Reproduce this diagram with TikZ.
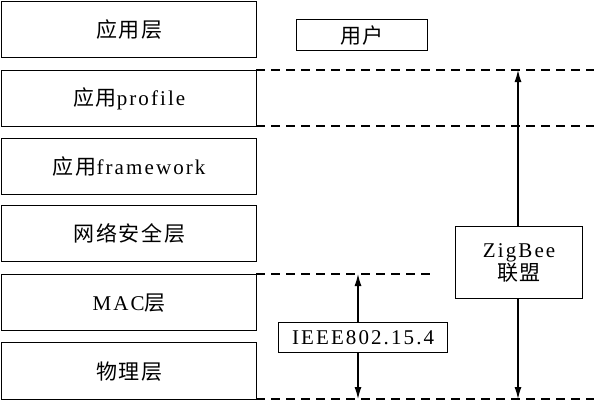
\documentclass[tikz,border=0pt]{standalone}
\usepackage{fontspec}
\setmainfont{Liberation Serif}[LetterSpace=10]
\newfontfamily\cjk{Noto Sans CJK SC}[LetterSpace=8]
\usetikzlibrary{arrows.meta}
\tikzset{
  layer/.style={draw, line width=1.4pt, minimum width=255pt, minimum height=56pt, inner sep=0pt, anchor=north west},
  lbl/.style={draw, line width=1.2pt, inner sep=0pt, anchor=north west},
  dline/.style={line width=1.2pt, dash pattern=on 9pt off 6pt},
  arr/.style={line width=1.2pt, -{Latex[length=12pt,width=7pt]}},
  txt/.style={font=\fontsize{21}{25}\selectfont}
}
\begin{document}
\begin{tikzpicture}[x=1pt,y=-1pt]
\useasboundingbox (0,0) rectangle (594,400);
\node[layer,txt] (app) at (1,1) {\cjk 应用层};
\node[layer,txt] (prof) at (1,70) {\cjk 应用\rmfamily profile};
\node[layer,txt] (frame) at (1,138) {\cjk 应用\rmfamily framework};
\node[layer,txt] (sec) at (1,205) {\cjk 网络安全层};
\node[layer,txt] (mac) at (1,274) {\rmfamily MAC\cjk 层};
\node[layer,txt,minimum height=57pt] (phy) at (1,342) {\cjk 物理层};
\node[lbl,txt,minimum width=131pt,minimum height=31pt] (user) at (296,19) {\cjk 用户};
\node[lbl,txt,minimum width=127pt,minimum height=72pt,align=center] (zig) at (455,226) {ZigBee\\[-2pt]{\cjk 联盟}};
\node[lbl,txt,minimum width=169pt,minimum height=30pt] (ieee) at (278,322) {IEEE802.15.4};
\coordinate (d1a) at (256,70); \coordinate (d1b) at (594,70);
\coordinate (d2a) at (256,126); \coordinate (d2b) at (594,126);
\coordinate (d3a) at (256,274); \coordinate (d3b) at (432,274);
\coordinate (d4a) at (256,399); \coordinate (d4b) at (594,399);
\draw[dline] (d1a) -- (d1b);
\draw[dline] (d2a) -- (d2b);
\draw[dline] (d3a) -- (d3b);
\draw[dline] (d4a) -- (d4b);
\coordinate (zt) at (518,70); \coordinate (zb) at (518,399);
\coordinate (it) at (358,274); \coordinate (ib) at (358,399);
\draw[arr] (zig.north -| zt) -- (zt);
\draw[arr] (zig.south -| zb) -- (zb);
\draw[arr] (ieee.north -| it) -- (it);
\draw[arr] (ieee.south -| ib) -- (ib);
\end{tikzpicture}
\end{document}
